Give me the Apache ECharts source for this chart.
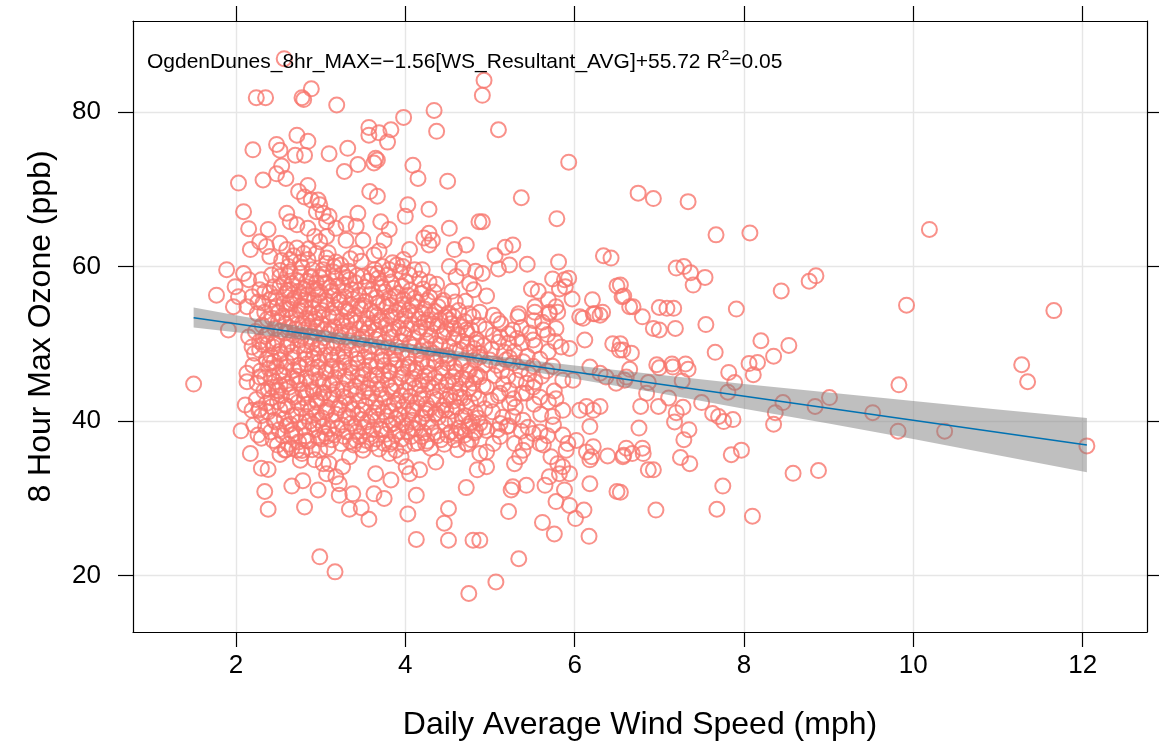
<!DOCTYPE html>
<html><head><meta charset="utf-8">
<script src="https://cdn.jsdelivr.net/npm/echarts@6/dist/echarts.min.js"></script>
<style>html,body{margin:0;padding:0;background:#fff}#c{width:1159px;height:748px}</style>
</head><body><div id="c"></div>
<script>
// Axis ticks
const xTicks = [2, 4, 6, 8, 10, 12];
const yTicks = [20, 40, 60, 80];
const xRange = [0.784, 12.76];
const yRange = [12.72, 91.77];

// Fitted regression line (endpoints) and its confidence band
const fitX = [1.5, 12.05];
const fitY = [53.38, 36.92];
const bandX  = [1.5, 2, 3, 4, 5, 6, 7, 8, 9, 10, 11, 12.05];
const bandHi = [54.7, 53.7, 51.8, 50.0, 48.5, 47.2, 46.0, 44.8, 43.7, 42.6, 41.5, 40.4];
const bandLo = [52.1, 51.5, 50.3, 48.9, 47.3, 45.5, 43.6, 41.6, 39.7, 37.7, 35.6, 33.4];

// Observations: [daily average wind speed (mph), 8 hour max ozone (ppb)]
const ozonePoints = [
// upper-left
[2.57,86.9],[2.24,81.85],[2.35,81.85],[2.78,81.85],[2.80,81.6],[2.89,83.0],[3.19,80.9],
[2.20,75.1],[2.48,75.8],[2.52,75.05],[2.72,77.0],[2.85,76.2],[2.70,74.4],[2.81,74.4],[3.10,74.6],[2.54,73.0],
[2.03,70.8],[2.32,71.2],[2.48,72.0],[2.59,71.4],[2.74,69.7],[2.85,70.5],[2.81,69.0],[2.89,68.6],[2.97,68.6],[2.99,68.0],
[2.09,67.1],[2.15,64.9],[2.38,64.8],[2.60,66.9],[2.64,65.8],[2.72,65.4],[2.95,67.1],[3.03,66.9],[3.07,65.8],
[2.85,64.95],[2.93,63.9],[2.99,63.2],[3.07,63.9],[2.17,62.2],[2.28,63.2],[2.36,62.6],[2.40,61.3],[2.52,63.0],[2.60,62.2],
[2.64,60.9],[2.72,62.4],[2.80,61.7],[2.85,60.9],[2.95,61.7],[3.07,61.1],[1.89,59.6],[2.09,59.1],[2.30,58.3],[2.52,58.7],
[2.62,60.0],[2.76,59.1],[2.89,58.7],[3.03,59.6],[1.77,56.3],[1.99,57.4],[2.15,58.3],[2.03,56.1],[2.19,56.1],[2.28,57.0],
[2.40,56.6],[2.52,57.4],[2.64,57.0],[2.76,56.1],[2.83,57.4],[2.95,57.0],[3.07,57.8],[1.97,54.8],[2.13,54.8],[2.32,55.3],
[2.48,54.8],[2.64,55.3],[2.81,54.8],[2.99,55.3],
// upper-middle
[3.98,79.3],[4.34,80.2],[4.37,77.5],[3.57,78.0],[3.57,77.0],[3.69,77.3],[3.83,77.7],[3.79,76.1],[3.32,75.3],[3.44,73.2],
[3.28,72.3],[3.65,74.0],[3.67,73.8],[3.63,73.4],[4.09,73.1],[4.15,71.4],[4.50,71.05],[3.58,69.7],[3.67,69.1],[3.44,66.9],
[3.71,65.8],[3.81,64.8],[3.75,63.4],[4.03,68.0],[4.00,66.5],[4.28,67.4],[3.10,66.5],[3.18,64.95],[3.30,65.5],[3.42,65.2],
[3.50,63.4],[3.30,63.4],[4.28,64.3],[4.32,63.4],[4.28,62.8],[4.22,63.7],[4.52,64.95],[4.58,62.2],[4.72,62.8],[4.87,65.8],
[4.05,62.2],[3.98,60.9],[3.85,60.5],[3.73,60.0],[3.63,61.5],[3.42,61.7],[3.18,60.6],[3.16,60.0],[3.26,59.1],[3.34,58.3],
[3.50,58.7],[3.67,59.1],[3.81,59.6],[3.97,60.0],[4.11,59.6],[4.20,59.6],[4.52,60.0],[4.68,59.8],[4.83,59.4],[4.60,58.7],
[4.76,57.8],[4.81,57.0],
// upper-right of core
[4.93,84.1],[4.91,82.15],[5.10,77.7],[5.93,73.5],[5.37,68.9],[4.91,65.8],[5.79,66.2],[5.06,61.4],[5.18,62.5],[5.27,62.8],
[5.10,59.7],[5.23,60.2],[5.44,60.3],[4.91,59.1],[5.81,60.6],[6.34,61.4],[6.43,61.1],[5.74,58.4],[5.88,58.3],[5.93,58.5],
[5.82,57.1],[5.89,57.4],[5.97,55.8],[5.49,57.1],[5.57,56.8],[4.96,56.2],[6.50,57.5],[6.56,56.1],[6.65,54.8],[6.21,55.7],
[5.69,55.7],[5.78,54.8],[5.53,54.8],[5.34,53.9],[5.70,54.1],[6.10,53.3],[6.24,53.9],[6.33,54.1],[6.54,57.6],[6.54,50.0],
// right, sparse
[6.75,69.5],[6.93,68.8],[7.34,68.4],[7.67,64.1],[8.07,64.35],[7.20,59.8],[7.29,60.0],[7.37,59.2],[7.40,57.6],[7.54,58.6],
[6.58,56.2],[6.69,54.8],[6.80,53.5],[7.00,54.7],[7.09,54.6],[7.17,54.6],[6.93,52.0],[7.00,51.8],[7.19,52.0],[7.91,54.5],
[7.55,52.5],[8.44,56.85],[8.77,58.1],[8.85,58.8],[8.20,50.4],[8.53,49.8],[8.35,48.4],[8.06,47.45],[8.16,47.6],[8.11,46.0],
[7.66,48.9],[6.57,49.2],[6.67,48.8],[6.65,46.7],[6.59,45.3],[6.97,47.3],[7.00,46.9],[7.15,47.4],[7.16,47.0],[7.31,47.4],
[7.34,46.7],[6.87,45.0],[7.27,45.2],[7.82,46.3],[7.89,45.0],[7.81,43.75],[6.85,43.6],[7.11,43.0],[7.50,42.4],[6.78,41.9],
[6.99,41.9],[7.20,41.1],[7.28,41.8],[7.63,41.0],[7.70,40.6],[7.76,39.95],[7.87,40.2],[8.37,41.1],[8.46,42.4],[8.84,41.9],
[9.01,43.05],[8.35,39.6],[7.18,39.9],[7.35,38.9],[6.76,39.1],[7.29,37.6],[6.58,35.6],[6.68,35.8],[6.80,36.5],[6.81,35.8],
[7.25,35.3],[7.36,34.5],[7.85,35.65],[7.97,36.25],[6.87,33.7],[6.93,33.7],[7.75,31.6],[8.58,33.25],[8.88,33.6],[6.54,30.8],
[6.96,28.5],[7.68,28.6],[8.10,27.7],
[9.52,41.1],[10.19,64.8],[9.92,55.0],[11.66,54.3],[11.28,47.3],[11.35,45.1],[9.83,44.7],[9.82,38.7],[10.37,38.7],[12.05,36.8],
// lower-left
[1.50,44.8],[1.91,51.8],[2.06,38.75],[2.17,35.8],[2.30,33.9],[2.38,33.75],[2.34,30.9],[2.38,28.6],[2.66,38.8],[2.52,35.7],
[2.58,36.25],[2.66,36.5],[2.72,36.25],[2.78,35.8],[2.76,34.95],[2.83,37.5],[2.66,31.6],[2.79,32.3],[2.81,28.9],[2.97,31.1],
[2.99,22.45],[2.13,46.2],[2.13,45.1],[2.11,42.1],[2.19,41.4],[2.28,41.6],[2.42,41.85],[2.38,44.2],[2.48,44.0],[2.52,44.65],
[2.42,45.7],[2.28,45.7],[2.15,50.9],[2.19,49.6],[2.28,49.2],[2.38,50.0],[2.48,50.5],[2.60,49.6],[2.52,47.9],[2.40,47.5],
[2.68,46.6],[2.72,45.3],[2.83,43.6],[2.95,42.7],[3.03,43.6],[3.07,41.4],[3.03,39.3],[3.07,38.0],[2.99,36.25],[3.03,34.5],
[3.07,33.2],
// lower-middle
[3.17,20.5],[4.75,17.7],[4.13,30.4],[4.03,28.0],[4.13,24.7],[4.51,28.7],[4.46,26.8],[4.51,24.6],[4.72,31.4],[4.80,24.6],
[3.34,28.6],[3.48,28.8],[3.57,27.3],[3.22,30.4],[3.38,30.6],[3.65,33.2],[3.63,30.6],[3.75,30.0],[3.83,32.4],[4.36,34.7],
[4.24,37.1],[4.09,39.05],[4.17,33.7],[4.05,33.2],[4.01,34.1],[3.81,35.8],[3.89,36.25],[3.95,35.4],[3.75,37.1],[3.61,37.1],
[3.50,36.25],[3.42,37.5],[3.34,35.4],[3.26,34.1],[3.18,32.8],[3.22,31.9],[3.10,34.5],[4.60,38.4],[4.72,37.1],[4.83,38.8],
[4.76,39.7],[4.85,33.7],[4.09,41.4],[4.24,41.4],[4.36,41.0],[4.48,41.4],[4.60,43.6],[4.58,52.0],[4.72,51.8],[4.80,53.5],
[4.52,53.1],
// lower-right of core
[5.07,19.2],[5.34,22.2],[4.88,24.6],[5.22,28.3],[5.62,26.9],[5.76,25.4],[6.17,25.1],[6.01,27.4],[6.11,28.5],[5.94,29.1],
[5.78,29.6],[5.25,31.1],[5.27,31.5],[5.43,31.7],[5.65,31.7],[5.70,32.8],[5.82,33.2],[5.86,34.1],[5.94,33.2],[5.88,31.1],
[6.18,31.9],[6.50,30.9],[5.29,34.5],[5.35,35.4],[5.39,36.25],[5.29,37.1],[5.43,37.3],[5.59,38.6],[5.63,36.9],[5.72,35.4],
[5.80,34.5],[5.90,36.25],[5.86,38.2],[5.92,37.1],[6.02,37.5],[6.14,36.0],[6.20,35.4],[6.22,36.7],[6.18,35.0],[6.39,35.5],
[6.57,35.4],[6.61,36.5],[4.88,35.8],[4.96,36.0],[5.04,37.1],[5.12,38.0],[4.96,34.1],
[4.88,54.1],[5.04,53.7],[5.33,53.5],[5.53,54.1],[5.70,53.9],[5.80,54.1],[6.06,53.5],[6.22,53.9],[6.30,53.7],
[5.12,50.9],[5.22,51.3],[5.27,51.8],[5.51,50.5],[5.63,51.8],[5.78,52.0],[5.84,49.6],[5.94,49.4],[6.12,50.5],[6.45,50.0],[6.53,49.2],
[4.88,48.75],[5.00,47.9],[5.19,47.9],[5.27,47.5],[5.39,47.7],[5.86,45.3],[5.98,45.3],[6.18,47.0],[6.30,46.2],[6.37,45.7],[6.49,44.9],[6.61,45.7],
[4.88,45.7],[4.96,44.4],[5.12,43.6],[5.23,44.0],[5.43,43.6],[5.51,44.4],[5.59,43.1],[5.78,42.9],[5.86,41.4],[5.74,40.6],
[6.06,41.4],[6.14,41.9],[6.22,41.4],[6.30,41.9],[6.18,39.3],
[4.88,39.7],[4.96,38.8],[5.12,39.7],[5.20,39.3],[5.27,40.6],[5.39,40.1],[5.51,38.4],[5.59,37.1],
// dense core
[2.21,39.5],[2.24,42.8],[2.20,47.2],[2.23,51.6],[2.25,53.9],[2.22,48.8],
[2.30,40.7],[2.33,43.9],[2.29,46.5],[2.32,49.9],[2.31,52.4],[2.34,54.1],[2.30,37.8],
[2.41,38.6],[2.38,41.2],[2.42,43.0],[2.39,46.8],[2.41,48.5],[2.37,51.2],[2.43,53.3],[2.40,55.7],[2.42,58.9],
[2.47,39.9],[2.49,42.5],[2.46,45.1],[2.48,47.0],[2.45,50.0],[2.50,52.8],[2.47,56.0],[2.49,36.9],
[2.55,38.1],[2.57,40.3],[2.54,43.3],[2.56,45.9],[2.53,48.7],[2.58,51.4],[2.55,53.6],[2.56,55.2],[2.57,57.9],[2.54,60.8],
[2.62,37.0],[2.64,39.6],[2.61,41.9],[2.63,44.4],[2.60,47.6],[2.65,50.3],[2.62,52.1],[2.63,54.5],[2.61,56.9],[2.64,59.3],
[2.70,38.4],[2.71,40.8],[2.69,43.1],[2.72,45.8],[2.68,48.2],[2.73,49.7],[2.70,51.9],[2.71,53.8],[2.69,55.9],[2.72,58.2],
[2.78,36.2],[2.80,39.2],[2.77,41.6],[2.79,44.0],[2.76,46.9],[2.81,48.9],[2.78,51.0],[2.79,52.7],[2.77,54.9],[2.80,57.1],[2.78,59.9],
[2.86,37.4],[2.87,40.0],[2.85,42.2],[2.88,45.1],[2.84,47.4],[2.89,50.2],[2.86,52.3],[2.87,53.9],[2.85,56.4],[2.88,58.6],[2.86,62.3],
[2.93,38.9],[2.95,41.0],[2.92,43.8],[2.94,46.2],[2.91,48.1],[2.96,49.4],[2.93,51.6],[2.94,53.2],[2.92,55.6],[2.95,57.9],[2.93,35.0],
[3.01,37.7],[3.02,40.4],[3.00,42.9],[3.03,45.0],[2.99,47.7],[3.04,50.8],[3.01,52.6],[3.02,54.3],[3.00,56.6],[3.03,59.0],
[3.09,36.6],[3.10,39.0],[3.08,41.8],[3.11,44.7],[3.07,46.5],[3.12,48.6],[3.09,51.3],[3.10,53.5],[3.08,55.1],[3.11,57.3],[3.09,61.8],
[3.16,38.2],[3.18,40.9],[3.15,43.4],[3.17,45.6],[3.14,47.9],[3.19,50.1],[3.16,52.2],[3.17,54.7],[3.15,56.2],[3.18,58.5],
[3.24,37.1],[3.25,39.5],[3.23,42.1],[3.26,44.2],[3.22,46.8],[3.27,49.0],[3.24,51.5],[3.25,53.0],[3.23,55.4],[3.26,57.6],[3.24,60.2],
[3.31,38.6],[3.33,40.5],[3.30,43.0],[3.32,45.4],[3.29,48.3],[3.34,50.4],[3.31,52.9],[3.32,54.2],[3.30,56.8],[3.33,59.4],
[3.39,36.9],[3.40,39.3],[3.38,41.5],[3.41,44.5],[3.37,46.3],[3.42,48.0],[3.39,51.1],[3.40,53.7],[3.38,55.8],[3.41,57.9],
[3.46,38.0],[3.48,40.2],[3.45,42.6],[3.47,45.0],[3.44,47.5],[3.49,49.8],[3.46,52.0],[3.47,54.6],[3.45,56.3],[3.48,60.7],
[3.54,37.5],[3.55,39.9],[3.53,42.0],[3.56,44.3],[3.52,46.6],[3.57,48.9],[3.54,51.4],[3.55,53.3],[3.53,55.5],[3.56,58.1],
[3.62,38.9],[3.63,41.1],[3.61,43.6],[3.64,45.9],[3.60,47.8],[3.65,50.6],[3.62,52.7],[3.63,54.0],[3.61,57.0],[3.64,59.6],
[3.69,36.4],[3.71,39.0],[3.68,41.7],[3.70,44.1],[3.67,46.0],[3.72,48.4],[3.69,51.0],[3.70,53.1],[3.68,55.3],[3.71,57.8],[3.69,62.0],
[3.77,38.3],[3.78,40.6],[3.76,42.9],[3.79,45.3],[3.75,47.2],[3.80,49.5],[3.77,52.4],[3.78,54.8],[3.76,56.7],[3.79,58.9],
[3.84,37.3],[3.86,39.7],[3.83,41.3],[3.85,43.9],[3.82,46.4],[3.87,48.7],[3.84,50.9],[3.85,53.4],[3.83,55.0],[3.86,57.2],
[3.92,38.7],[3.93,40.8],[3.91,42.7],[3.94,45.6],[3.90,47.9],[3.95,50.3],[3.92,52.1],[3.93,54.4],[3.91,56.5],[3.94,59.3],
[3.99,36.8],[4.01,39.4],[3.98,41.9],[4.00,44.0],[3.97,46.1],[4.02,48.2],[3.99,51.2],[4.00,53.6],[3.98,55.7],[4.01,58.0],
[4.07,38.0],[4.08,40.1],[4.06,43.2],[4.09,45.5],[4.05,47.4],[4.10,49.6],[4.07,52.5],[4.08,54.9],[4.06,56.9],
[4.15,37.2],[4.16,39.8],[4.14,42.3],[4.17,44.6],[4.13,46.8],[4.18,49.1],[4.15,51.6],[4.16,53.2],[4.14,55.4],[4.17,58.4],
[4.22,38.5],[4.24,41.0],[4.21,43.5],[4.23,45.8],[4.20,48.0],[4.25,50.4],[4.22,52.8],[4.23,54.5],[4.21,57.1],
[4.30,36.5],[4.31,39.2],[4.29,41.6],[4.32,44.3],[4.28,46.2],[4.33,48.8],[4.30,51.0],[4.31,53.7],[4.29,56.0],
[4.38,38.1],[4.39,40.5],[4.37,42.8],[4.40,45.1],[4.36,47.6],[4.41,49.9],[4.38,52.3],[4.39,54.8],[4.37,57.7],
[4.46,37.0],[4.47,39.6],[4.45,42.0],[4.48,44.7],[4.44,46.9],[4.49,48.5],[4.46,51.5],[4.47,53.5],[4.45,55.6],
[4.54,38.6],[4.55,41.3],[4.53,43.4],[4.56,45.7],[4.52,48.1],[4.57,50.7],[4.54,52.6],[4.55,56.8],
[4.62,36.3],[4.63,39.1],[4.61,41.8],[4.64,44.2],[4.60,46.4],[4.65,49.2],[4.62,51.2],[4.63,54.3],
[4.70,38.2],[4.71,40.7],[4.69,43.0],[4.72,45.4],[4.68,47.8],[4.73,50.0],[4.70,52.9],[4.71,55.5],
[4.78,37.6],[4.79,39.9],[4.77,42.4],[4.80,44.9],[4.76,46.6],[4.81,49.4],[4.78,51.8],
[4.86,40.4],[4.87,42.9],[4.85,46.0],[4.88,48.3],[4.84,50.6],[4.87,52.4],
[5.03,41.2],[5.05,45.9],[5.02,49.3],[5.04,51.1],[5.01,42.7],
[5.15,40.5],[5.16,44.8],[5.14,46.5],[5.17,48.9],[5.13,52.6],
[5.30,41.8],[5.31,45.3],[5.29,49.0],[5.32,50.7],[5.28,42.9],
[5.45,39.2],[5.46,46.1],[5.44,48.4],[5.47,51.4],[5.43,44.9],
[5.60,40.9],[5.61,45.8],[5.59,48.0],[5.62,52.8],
[5.75,39.5],[5.76,43.9],[5.74,47.1],[5.77,50.3],
// dense core, second layer
[2.26,38.2],[2.27,41.4],[2.25,44.9],[2.28,50.3],[2.26,55.4],
[2.35,39.3],[2.36,42.3],[2.34,45.6],[2.36,48.0],[2.35,51.0],[2.37,53.2],[2.34,56.7],
[2.44,37.5],[2.45,40.1],[2.43,44.4],[2.45,47.7],[2.44,49.6],[2.46,52.0],[2.43,54.6],[2.45,57.4],
[2.51,38.9],[2.52,41.5],[2.50,43.9],[2.52,46.3],[2.51,49.0],[2.53,51.6],[2.50,54.0],[2.52,59.5],
[2.59,36.3],[2.60,39.4],[2.58,42.1],[2.60,44.8],[2.59,47.0],[2.61,49.9],[2.58,52.6],[2.60,54.4],[2.59,56.5],[2.61,58.8],
[2.66,38.2],[2.67,40.7],[2.65,43.4],[2.67,45.6],[2.66,48.9],[2.68,51.1],[2.65,53.3],[2.67,55.6],[2.66,57.8],[2.68,61.4],
[2.74,37.3],[2.75,39.9],[2.73,42.4],[2.75,44.9],[2.74,47.2],[2.76,50.5],[2.73,52.6],[2.75,54.3],[2.74,56.8],[2.76,60.5],
[2.82,38.1],[2.83,40.6],[2.81,43.0],[2.83,45.6],[2.82,48.0],[2.84,49.8],[2.81,51.8],[2.83,53.3],[2.82,55.7],[2.84,58.1],
[2.90,36.3],[2.91,39.6],[2.89,41.6],[2.91,44.1],[2.90,46.8],[2.92,48.8],[2.89,50.9],[2.91,52.9],[2.90,54.7],[2.92,57.2],[2.90,59.6],
[2.97,37.9],[2.98,40.1],[2.96,42.4],[2.98,45.4],[2.97,47.0],[2.99,49.9],[2.96,52.2],[2.98,54.0],[2.97,56.3],[2.99,58.6],
[3.05,38.4],[3.06,41.2],[3.04,43.7],[3.06,46.3],[3.05,48.5],[3.07,49.7],[3.04,51.9],[3.06,55.6],[3.05,57.9],[3.07,60.4],
[3.13,37.6],[3.14,40.1],[3.12,42.8],[3.14,44.9],[3.13,47.1],[3.15,49.5],[3.12,51.8],[3.14,53.9],[3.13,56.8],[3.15,59.3],
[3.20,39.1],[3.21,41.7],[3.19,44.1],[3.21,46.5],[3.20,48.6],[3.22,50.9],[3.19,53.4],[3.21,55.7],[3.20,57.5],
[3.28,38.0],[3.29,40.8],[3.27,43.2],[3.29,45.8],[3.28,47.6],[3.30,49.8],[3.27,52.3],[3.29,54.5],[3.28,56.1],[3.30,58.6],
[3.35,37.4],[3.36,39.7],[3.34,42.2],[3.36,44.0],[3.35,46.9],[3.37,49.2],[3.34,51.7],[3.36,53.1],[3.35,55.1],[3.37,57.0],[3.35,61.0],
[3.43,38.6],[3.44,40.9],[3.42,43.5],[3.44,45.8],[3.43,48.7],[3.45,50.6],[3.42,52.7],[3.44,54.9],[3.43,58.8],
[3.50,36.9],[3.51,39.2],[3.49,41.4],[3.51,43.8],[3.50,46.0],[3.52,48.3],[3.49,50.9],[3.51,52.5],[3.50,55.0],[3.52,57.3],
[3.58,38.3],[3.59,40.6],[3.57,43.0],[3.59,45.3],[3.58,47.2],[3.60,49.7],[3.57,52.0],[3.59,54.3],[3.58,56.4],[3.60,59.0],
[3.66,37.7],[3.67,40.2],[3.65,42.5],[3.67,44.8],[3.66,47.0],[3.68,49.5],[3.65,51.8],[3.67,53.7],[3.66,56.0],[3.68,58.5],
[3.73,38.9],[3.74,41.2],[3.72,43.4],[3.74,45.9],[3.73,47.9],[3.75,50.2],[3.72,52.9],[3.74,55.2],[3.73,57.3],
[3.81,37.0],[3.82,39.5],[3.80,41.9],[3.82,44.4],[3.81,46.5],[3.83,48.1],[3.80,51.4],[3.82,53.6],[3.81,55.9],[3.83,58.0],
[3.88,38.3],[3.89,40.3],[3.87,42.3],[3.89,44.8],[3.88,47.3],[3.90,49.6],[3.87,51.9],[3.89,54.1],[3.88,56.1],[3.90,60.2],
[3.96,37.7],[3.97,39.8],[3.95,43.3],[3.97,46.9],[3.96,49.0],[3.98,51.3],[3.95,53.0],[3.97,55.1],[3.96,57.5],
[4.03,38.6],[4.04,40.9],[4.02,42.6],[4.04,45.0],[4.03,47.0],[4.05,50.0],[4.02,52.0],[4.04,54.3],[4.03,56.3],[4.05,58.9],
[4.11,37.1],[4.12,39.0],[4.10,41.7],[4.12,44.3],[4.11,46.4],[4.13,48.5],[4.10,50.8],[4.12,53.8],[4.11,55.9],
[4.19,38.0],[4.20,40.5],[4.18,42.9],[4.20,45.2],[4.19,47.5],[4.21,49.7],[4.18,52.1],[4.20,54.0],[4.19,56.5],
[4.26,37.4],[4.27,39.9],[4.25,42.2],[4.27,44.8],[4.26,47.1],[4.28,49.3],[4.25,51.9],[4.27,53.1],[4.26,55.6],[4.28,58.0],
[4.34,38.5],[4.35,40.9],[4.33,43.1],[4.35,45.6],[4.34,47.8],[4.36,50.0],[4.33,52.6],[4.35,54.2],[4.34,56.7],
[4.42,37.6],[4.43,41.4],[4.41,43.9],[4.43,46.2],[4.42,48.4],[4.44,51.0],[4.41,53.1],[4.43,55.2],
[4.50,38.2],[4.51,40.3],[4.49,42.8],[4.51,45.1],[4.50,47.5],[4.52,49.6],[4.49,51.9],[4.51,54.0],
[4.58,37.6],[4.59,40.0],[4.57,42.6],[4.59,44.9],[4.58,47.0],[4.60,49.1],[4.57,53.5],[4.59,55.4],
[4.66,38.7],[4.67,40.5],[4.65,43.1],[4.67,45.6],[4.66,47.4],[4.68,50.3],[4.65,52.2],
[4.74,37.0],[4.75,39.3],[4.73,41.9],[4.75,44.2],[4.74,46.4],[4.76,48.9],[4.73,51.4],[4.75,53.9],
[4.82,38.5],[4.83,41.1],[4.81,43.6],[4.83,45.7],[4.82,47.9],[4.84,50.1],
[4.93,39.2],[4.94,41.6],[4.92,44.6],[4.94,47.3],[4.93,49.8],[4.95,51.9],
[5.09,38.9],[5.10,43.3],[5.08,47.2],[5.10,50.2],[5.09,53.1],
[5.22,39.4],[5.23,42.3],[5.21,45.8],[5.23,48.2],[5.22,50.1],
[5.37,38.7],[5.38,43.6],[5.36,46.6],[5.38,50.1],[5.37,52.1],
[5.52,42.2],[5.53,45.1],[5.51,47.1],[5.53,49.8],[5.52,53.0],
[5.68,38.1],[5.69,42.5],[5.67,46.5],[5.69,49.0],[5.68,51.2]
];

const annotationText = 'OgdenDunes_8hr_MAX=\u22121.56[WS_Resultant_AVG]+55.72 R{sup|2}=0.05';
const xTitle = 'Daily Average Wind Speed (mph)';
const yTitle = '8 Hour Max Ozone (ppb)';

const FONT = '"Liberation Sans", Arial, Helvetica, sans-serif';
const chart = echarts.init(document.getElementById('c'), null, {renderer: 'canvas'});

const frameLine = {show: true, onZero: false, lineStyle: {color: '#000', width: 1.2}};
const tickStyle = {color: '#000', width: 1.2};

const option = {
  backgroundColor: '#fff',
  animation: false,
  title: {
    text: annotationText,
    left: 142, top: 44,
    textStyle: {
      fontFamily: FONT, fontSize: 21, fontWeight: 'normal', color: '#000',
      rich: {sup: {fontFamily: FONT, fontSize: 14, verticalAlign: 'top', padding: [0, 0, 12, 0], color: '#000'}}
    }
  },
  grid: {left: 133, right: 12, top: 21, bottom: 116, containLabel: false, outerBoundsMode: 'none'},
  xAxis: [{
    type: 'value', position: 'bottom', min: xRange[0], max: xRange[1],
    axisLine: frameLine,
    axisTick: {show: true, length: 15, lineStyle: tickStyle, customValues: xTicks},
    axisLabel: {customValues: xTicks, fontFamily: FONT, fontSize: 26, color: '#000', margin: 21},
    splitLine: {show: true, lineStyle: {color: '#e6e6e6', width: 1.4}},
    name: xTitle, nameLocation: 'middle', nameGap: 77,
    nameTextStyle: {fontFamily: FONT, fontSize: 32, color: '#000'}
  }, {
    type: 'value', position: 'top', min: xRange[0], max: xRange[1],
    axisLine: frameLine,
    axisTick: {show: true, length: 15, lineStyle: tickStyle, customValues: xTicks},
    axisLabel: {show: false, customValues: xTicks},
    splitLine: {show: false}
  }],
  yAxis: [{
    type: 'value', position: 'left', min: yRange[0], max: yRange[1],
    axisLine: frameLine,
    axisTick: {show: true, length: 15, lineStyle: tickStyle, customValues: yTicks},
    axisLabel: {customValues: yTicks, fontFamily: FONT, fontSize: 26, color: '#000', margin: 32},
    splitLine: {show: true, lineStyle: {color: '#e6e6e6', width: 1.4}},
    name: yTitle, nameLocation: 'middle', nameGap: 76, nameRotate: 90,
    nameTextStyle: {fontFamily: FONT, fontSize: 32, color: '#000'}
  }, {
    type: 'value', position: 'right', min: yRange[0], max: yRange[1],
    axisLine: frameLine,
    axisTick: {show: true, length: 15, lineStyle: tickStyle, customValues: yTicks},
    axisLabel: {show: false, customValues: yTicks},
    splitLine: {show: false}
  }],
  series: [{
    type: 'scatter', xAxisIndex: 0, yAxisIndex: 0,
    data: ozonePoints,
    symbol: 'circle', symbolSize: 15,
    itemStyle: {color: 'rgba(0,0,0,0)', borderColor: '#F8766D', borderWidth: 2},
    z: 2, silent: true
  }, {
    type: 'custom', xAxisIndex: 0, yAxisIndex: 0,
    data: bandX.map((x, i) => [x, bandLo[i], bandHi[i]]),
    encode: {x: 0, y: [1, 2]},
    renderItem: function (params, api) {
      if (params.dataIndex !== 0) return null;
      const pts = [];
      for (let i = 0; i < bandX.length; i++) pts.push(api.coord([bandX[i], bandHi[i]]));
      for (let i = bandX.length - 1; i >= 0; i--) pts.push(api.coord([bandX[i], bandLo[i]]));
      return {type: 'polygon', shape: {points: pts}, style: {fill: 'rgba(128,128,128,0.5)', stroke: null}};
    },
    z: 3, silent: true
  }, {
    type: 'line', xAxisIndex: 0, yAxisIndex: 0,
    data: fitX.map((x, i) => [x, fitY[i]]),
    showSymbol: false, symbol: 'none',
    lineStyle: {color: '#0072B2', width: 1.6},
    z: 4, silent: true
  }]
};
chart.setOption(option);
</script>
</body></html>
